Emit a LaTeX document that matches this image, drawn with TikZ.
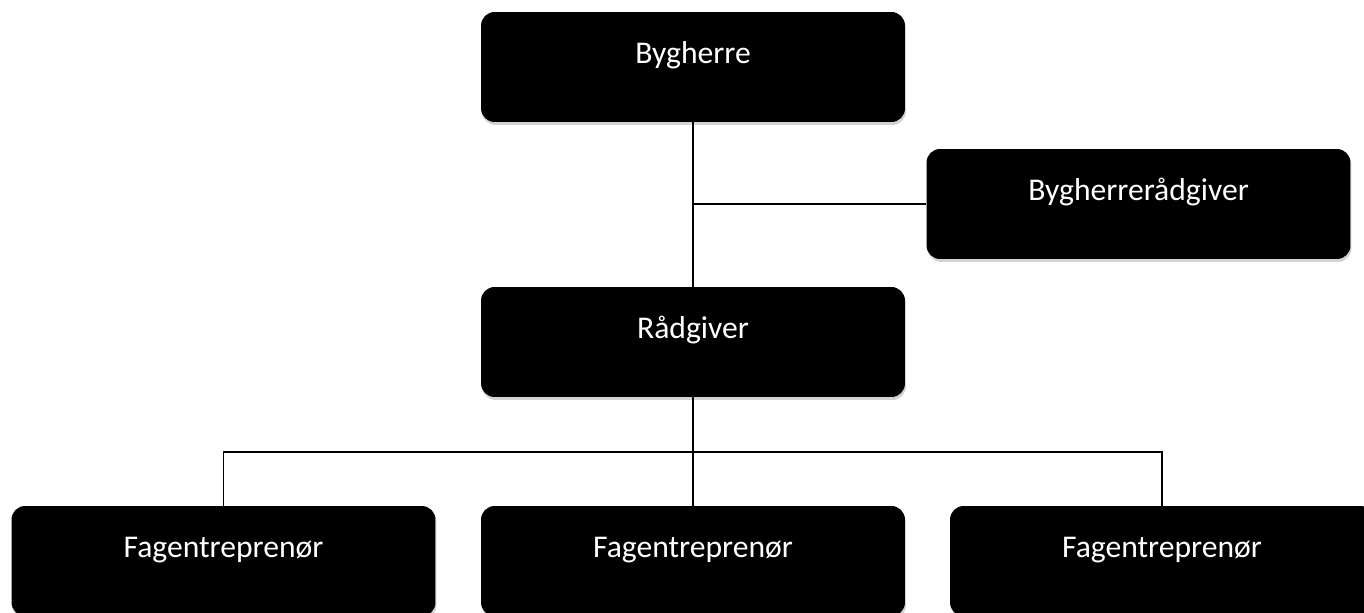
\documentclass[tikz,border=0pt]{standalone}
\usepackage{fontspec}
\setmainfont{Carlito}
\usetikzlibrary{shadows}
\begin{document}
\begin{tikzpicture}[x=0.02cm,y=-0.02cm,
    box/.style={rectangle, rounded corners=0.27cm, fill=black, text=white,
      minimum width=8.48cm, inner sep=0pt, text height=1.02cm, text depth=1.18cm,
      font=\fontsize{18}{21}\selectfont,
      drop shadow={shadow xshift=0.02cm, shadow yshift=-0.06cm, fill=black!50, opacity=0.35}},
    link/.style={line width=0.8pt}]
  \useasboundingbox (0,0) rectangle (1364,612);
  \clip (0,0) rectangle (1364,612);
  \draw
    (693,67) node[box] (byg){Bygherre}
    (1138.5,204) node[box] (bygr){Bygherrerådgiver}
    (693,342) node[box] (rad){Rådgiver}
    (223.5,561) node[box] (fag1){Fagentreprenør}
    (693,561) node[box] (fag2){Fagentreprenør}
    (1162,561) node[box] (fag3){Fagentreprenør};
  \coordinate (bus) at (693,452);
  \begin{scope}[link]
    \draw (byg.south) -- (rad.north);
    \draw (bygr.west) -- (bygr.west -| byg.south);
    \draw (rad.south) -- (bus);
    \draw (bus) -- (fag2.north);
    \draw (fag1.north) |- (bus) -| (fag3.north);
  \end{scope}
\end{tikzpicture}
\end{document}
